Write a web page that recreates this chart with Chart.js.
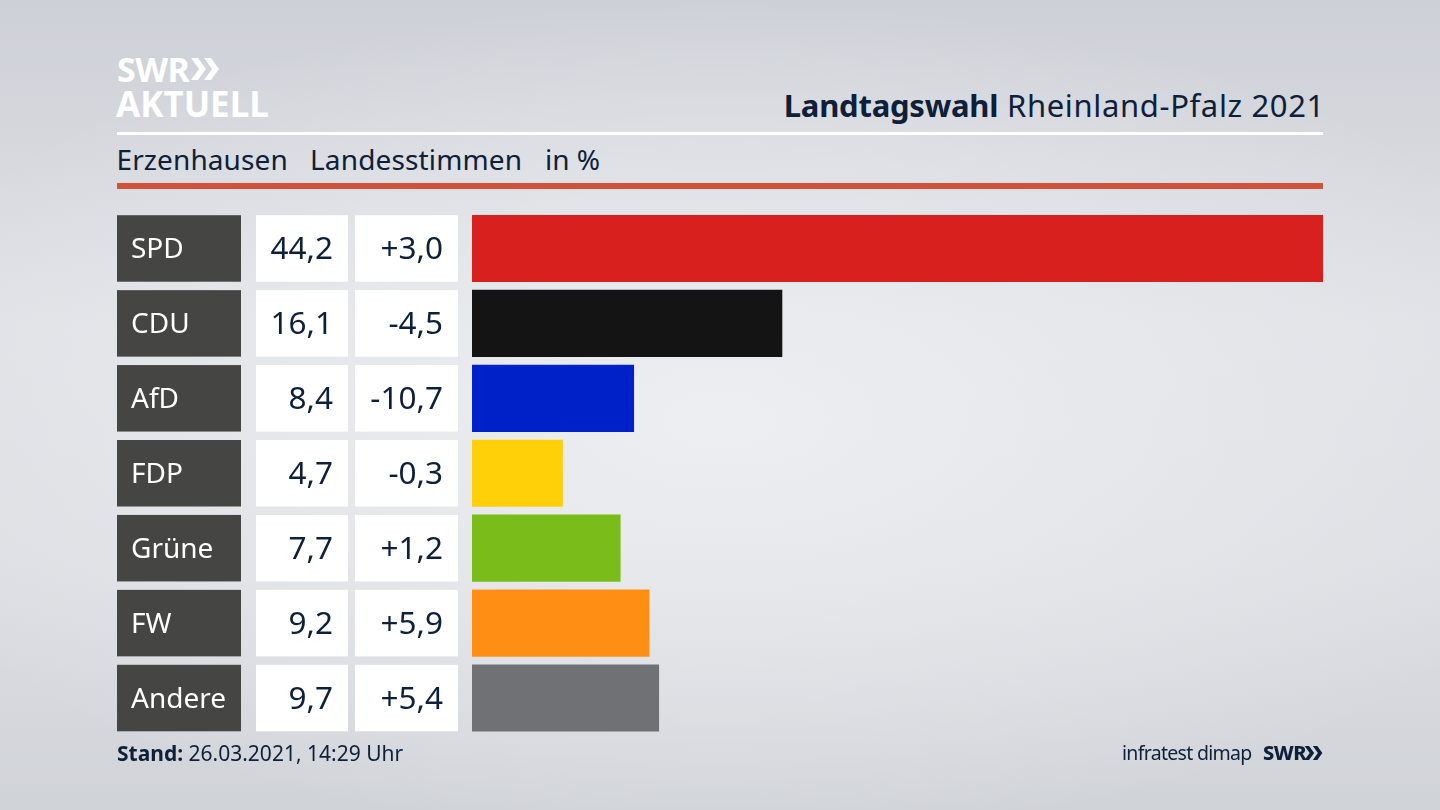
<!DOCTYPE html>
<html lang="de">
<head>
<meta charset="utf-8">
<title>Landtagswahl Rheinland-Pfalz 2021</title>
<script src="https://cdn.jsdelivr.net/npm/chart.js@4"></script>
<style>
  html, body { margin: 0; padding: 0; }
  body {
    width: 1440px; height: 810px; position: relative; overflow: hidden;
    font-family: "Noto Sans", sans-serif; color: #0e2039;
    background:
      radial-gradient(ellipse 900px 420px at 50% 52%, #eceef1 0%, rgba(236,238,241,0) 100%),
      linear-gradient(#cdd0d6 0%, #dfe1e6 40%, #dcdee3 70%, #d0d3d8 100%);
  }
  canvas { position: absolute; left: 0; top: 0; }
  .abs { position: absolute; white-space: nowrap; line-height: 1; }
  .rule { position: absolute; left: 117px; width: 1206px; }
  svg { position: absolute; }
</style>
</head>
<body>
<div class="abs" style="left:117px;top:52px;font-size:34px;font-weight:700;color:#fff;letter-spacing:-0.5px">SWR</div>
<svg style="left:190px;top:57px" width="30" height="24" viewBox="0 0 30 24">
  <path d="M1 1h7l8 11-8 11H1l8-11zM14 1h7l8 11-8 11h-7l8-11z" fill="#fff"/>
</svg>
<div class="abs" style="left:116px;top:86px;font-size:35px;font-weight:700;color:#fff;letter-spacing:0px">AKTUELL</div>
<div class="abs" style="right:115px;top:90px;font-size:31px;letter-spacing:0.65px"><b style="letter-spacing:-0.23px">Landtagswahl</b> Rheinland-Pfalz 2021</div>
<div class="rule" style="top:132px;height:3px;background:#fff"></div>
<div class="abs" style="left:116.5px;top:145px;font-size:28px;letter-spacing:0.1px">Erzenhausen</div>
<div class="abs" style="left:310px;top:145px;font-size:28px;letter-spacing:0.15px">Landesstimmen</div>
<div class="abs" style="left:545px;top:145px;font-size:28px">in %</div>
<div class="rule" style="top:183px;height:6px;background:#cf5239"></div>
<canvas id="chart" width="1440" height="810"></canvas>
<div class="abs" style="left:117px;top:743px;font-size:21px"><b>Stand:</b> 26.03.2021, 14:29 Uhr</div>
<div class="abs" style="left:1122px;top:743px;font-size:19.5px;letter-spacing:-0.7px">infratest dimap</div>
<div class="abs" style="left:1263px;top:743px;font-size:20px;font-weight:800;letter-spacing:-0.5px">SWR</div>
<svg style="left:1304px;top:745px" width="19" height="16" viewBox="0 0 30 24">
  <path d="M1 1h7l8 11-8 11H1l8-11zM14 1h7l8 11-8 11h-7l8-11z" fill="#0e2039"/>
</svg>
<script>
  const parties = ["SPD", "CDU", "AfD", "FDP", "Grüne", "FW", "Andere"];
  const shares = [44.2, 16.1, 8.4, 4.7, 7.7, 9.2, 9.7];
  const changes = ["+3,0", "-4,5", "-10,7", "-0,3", "+1,2", "+5,9", "+5,4"];
  const partyColors = ["#d8201f", "#141414", "#0020c8", "#ffcf08", "#7abc1a", "#ff8f14", "#707174"];

  const fmt = (v) => v.toFixed(1).replace(".", ",");

  // Kacheln links neben den Balken
  const cells = {
    id: "cells",
    beforeDraw(chart) {
      const { ctx } = chart;
      const y = chart.scales.y;
      ctx.save();
      ctx.textBaseline = "middle";
      parties.forEach((p, i) => {
        const top = y.getPixelForValue(i) - 33.25;
        ctx.fillStyle = "#454543";
        ctx.fillRect(117, top, 124, 66.5);
        ctx.fillStyle = "#fff";
        ctx.fillRect(256, top, 92, 66.5);
        ctx.fillRect(355, top, 103, 66.5);

        ctx.textAlign = "left";
        ctx.font = '28px "Noto Sans", sans-serif';
        ctx.fillText(p, 131, top + 35);

        ctx.fillStyle = "#0e2039";
        ctx.textAlign = "right";
        ctx.font = '31.5px "Noto Sans", sans-serif';
        ctx.fillText(fmt(shares[i]), 333, top + 35);
        ctx.fillText(changes[i], 443, top + 35);
      });
      ctx.restore();
    },
  };

  new Chart(document.getElementById("chart"), {
    type: "bar",
    data: {
      labels: parties,
      datasets: [{
        data: shares,
        backgroundColor: partyColors,
        barThickness: 66.5,
      }],
    },
    plugins: [cells],
    options: {
      indexAxis: "y",
      responsive: false,
      animation: false,
      layout: { padding: { left: 131, right: 117, top: 211, bottom: 74.5 } },
      plugins: { legend: { display: false }, tooltip: { enabled: false } },
      scales: {
        x: { display: false, min: 0, max: Math.max(...shares) },
        y: {
          afterFit: (s) => { s.width = 341; },
          border: { display: false },
          grid: { display: false, drawTicks: false },
          ticks: { display: false },
        },
      },
    },
  });
</script>
</body>
</html>
